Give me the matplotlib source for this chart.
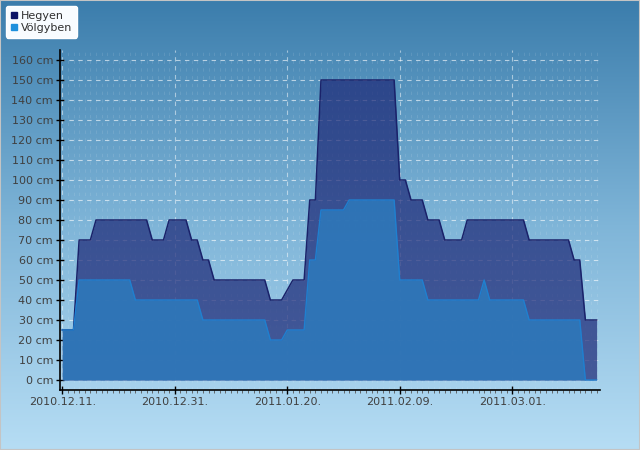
import numpy as np
import pandas as pd
import matplotlib
matplotlib.use('Agg')
import matplotlib.pyplot as plt
import matplotlib.dates as mdates
from matplotlib.lines import Line2D
from matplotlib.patches import Rectangle

# daily snow depth (cm), starting 2010-12-11
hegyen = ([25] * 3 + [70] * 3 + [80] * 10 + [70] * 3 + [80] * 4 + [70] * 2 + [60] * 2 +
          [50] * 10 + [40] * 3 + [45] + [50] * 3 + [90] * 2 + [150] * 14 + [100] * 2 +
          [90] * 3 + [80] * 3 + [70] * 4 + [80] * 11 + [70] * 8 + [60] * 2 + [30] * 3)
volgyben = ([25] * 3 + [50] * 10 + [40] * 12 + [30] * 12 + [20] * 3 + [25] * 4 +
            [60] * 2 + [85] * 5 + [90] * 9 + [50] * 5 + [40] * 10 + [50] + [40] * 7 +
            [30] * 10 + [0] * 3)
dates = pd.date_range('2010-12-11', periods=len(hegyen), freq='D')
series_names = ['Hegyen', 'Völgyben']

fig = plt.figure(figsize=(6.4, 4.5), dpi=100)

# background gradient over whole figure
bg = fig.add_axes([0, 0, 1, 1], zorder=-10)
grad = np.linspace(0, 1, 256).reshape(-1, 1)
cmap = matplotlib.colors.LinearSegmentedColormap.from_list('bg', ['#3b7dac', '#7fb5d8', '#b6ddf4'])
bg.imshow(grad, aspect='auto', cmap=cmap, extent=[0, 1, 0, 1], origin='upper')
bg.axis('off')
fig.patches.append(Rectangle((0, 0), 1, 1, transform=fig.transFigure, fill=False,
                             edgecolor='#c4c4c4', linewidth=1.5))

ax = fig.add_axes([60 / 640, 60 / 450, 540 / 640, 340 / 450])
ax.patch.set_alpha(0)

x = mdates.date2num(dates)
ax.fill_between(x, 0, hegyen, color='#1e2a78', alpha=0.72, linewidth=0, zorder=2)
ax.plot(x, hegyen, color='#1a226a', linewidth=1.1, zorder=3)
ax.fill_between(x, 0, volgyben, color='#2e78ba', alpha=0.9, linewidth=0, zorder=4)
ax.plot(x, volgyben, color='#1f80d0', linewidth=1.0, zorder=5)

ax.set_ylim(-5, 165)
ax.set_xlim(x[0] - 0.4, x[-1] + 0.6)
ax.set_yticks(range(0, 161, 10))
ax.set_yticklabels([f'{v} cm' for v in range(0, 161, 10)])
ax.set_xticks(x[::20])
ax.set_xticklabels([d.strftime('%Y.%m.%d.') for d in dates[::20]])
ax.set_xticks(x, minor=True)

for s in ['top', 'right']:
    ax.spines[s].set_visible(False)
for s in ['left', 'bottom']:
    ax.spines[s].set_color('black')
    ax.spines[s].set_linewidth(1.2)
    ax.spines[s].set_zorder(10)
ax.tick_params(axis='both', which='major', direction='inout', length=6, width=1,
               labelsize=8, labelcolor='#404040', pad=2)
ax.tick_params(axis='x', which='minor', direction='out', length=2, width=0.6, color='#555555')

ax.set_axisbelow(True)
ax.grid(axis='y', which='major', color='white', alpha=0.6, linestyle=(0, (4, 4)), linewidth=0.8)
ax.grid(axis='x', which='major', color='white', alpha=0.5, linestyle=(0, (4, 4)), linewidth=0.8)
ax.grid(axis='x', which='minor', color='white', alpha=0.1, linestyle=(0, (3, 4)), linewidth=0.8)

handles = [Line2D([], [], marker='s', linestyle='none', markersize=5, color='#0d1466'),
           Line2D([], [], marker='s', linestyle='none', markersize=5, color='#1e90dc')]
leg = fig.legend(handles, series_names, loc='upper left', bbox_to_anchor=(6 / 640, 1 - 6 / 450),
                 fontsize=8, frameon=True, fancybox=True, handlelength=0.6, handletextpad=0.3,
                 borderpad=0.45, labelspacing=0.15, borderaxespad=0)
leg.get_frame().set_facecolor('#f8fcff')
leg.get_frame().set_edgecolor('white')
leg.get_frame().set_alpha(1)
for t in leg.get_texts():
    t.set_color('#303030')

fig.savefig('out.png', dpi=100)
